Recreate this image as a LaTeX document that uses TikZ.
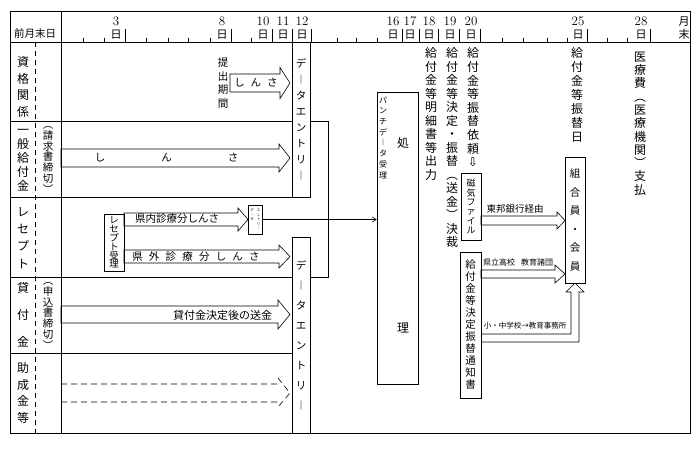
\documentclass[tikz,border=0pt]{standalone}
\usepackage{fontspec}
\newfontfamily\jp{Noto Sans CJK JP}
\newfontfamily\dv{DejaVu Sans}
\usetikzlibrary{arrows.meta}

% vertical text: one glyph per line
\newcommand\vt[2]{\vbox{\baselineskip=#1pt\lineskiplimit=-100pt\lineskip=0pt\vtnext#2\relax}}
\def\vtnext#1{\ifx#1\relax\else\hbox to 1.1em{\hss#1\hss}\expandafter\vtnext\fi}
% letter spaced text
\newcommand\spaced[2]{\def\spgap{\hspace{#1pt}}\spfirst#2\relax}
\def\spfirst#1{#1\spnext}
\def\spnext#1{\ifx#1\relax\else\spgap#1\expandafter\spnext\fi}
\newcommand\darr{{\dv ⇩}}
% block arrow: x start, x head, x tip, y top, y bottom, overhang
\newcommand\blockarrow[7][]{\draw[#1] (#2,#5) -- (#3,#5) -- (#3,#5-#7) -- (#4,{(#5+#6)/2}) -- (#3,#6+#7) -- (#3,#6) -- (#2,#6) -- cycle;}

\begin{document}
\begin{tikzpicture}[x=1pt,y=-1pt,line width=0.6pt,
  lab/.style={inner sep=0pt,font=\jp\fontsize{12}{12}\selectfont},
  txt/.style={inner sep=0pt,font=\jp\fontsize{10.5}{10.5}\selectfont},
  small/.style={inner sep=0pt,font=\jp\fontsize{9.5}{9.5}\selectfont},
  tiny/.style={inner sep=0pt,font=\jp\fontsize{7.5}{7.5}\selectfont},
  box/.style={draw,inner sep=0pt},
  daynum/.style={inner sep=0pt,font=\fontsize{13}{13}\selectfont},
  dayjp/.style={inner sep=0pt,font=\jp\fontsize{11}{11}\selectfont},
  flow/.style={-{Straight Barb[length=4pt,width=5pt]}}]
\useasboundingbox (0,0) rectangle (699,448);

% frame and rows
\draw[line width=0.9pt] (10,11) rectangle (690,433);
\draw (10,42) -- (690,42);
\draw (61,11) -- (61,433);
\draw[dash pattern=on 5pt off 4pt] (35,42) -- (35,433);
\draw (10,121) -- (292,121);
\draw (10,197) -- (292,197);
\draw (10,277) -- (292,277);
\draw (10,353) -- (292,353);

% day scale
\foreach \t/\d in {125/3,231/8,272/10,292/11,311/12,402/16,419/17,438/18,459/19,480/20,587/25,650/28}{
  \draw (\t,42) -- (\t,29);
  \node[daynum] (n\d) at (\t-9,21) {\d};
  \node[dayjp] (j\d) at (\t-9,35) {日};
}
\foreach \t in {83,104,146,168,188,210,251,337,356,377,502,523,547,567,607,627}
  \draw (\t,42) -- (\t,38);
\node[dayjp] (mend) at (684,28) {\vt{13.5}{月末}};
\node[small,font=\jp\fontsize{10.5}{10.5}\selectfont] (prev) at (35,33) {前月末日};

% row labels
\node[lab] (rowA) at (23,87) {\vt{16.7}{資格関係}};
\node[lab] (rowB) at (23,160.5) {\vt{14}{一般給付金}};
\node[txt] (rowBn) at (48,160) {\vt{10.7}{︵請求書締切︶}};
\node[lab] (rowC) at (23,238) {\vt{17.3}{レセプト}};
\node[lab] (rowD) at (23,315) {\vt{27}{貸付金}};
\node[txt] (rowDn) at (48,316) {\vt{10.7}{︵申込書締切︶}};
\node[lab] (rowE) at (23,393) {\vt{16.7}{助成金等}};

% data entry
\node[box,txt,minimum width=18pt,minimum height=155pt] (entryA) at (301,119.5) {\vt{16}{デ︱タエントリ︱}};
\node[box,txt,minimum width=18pt,minimum height=196pt] (entryB) at (301,335) {\vt{20}{デ︱タエントリ︱}};
\draw (entryA.east |- 0,121) -- (328,121) -- (328,277) -- (entryB.east |- 0,277);

% qualification
\node[txt] (period) at (223,83) {\vt{13.5}{提出期間}};
\blockarrow{230}{280}{290}{74}{92}{6.5}
\node[txt] (chkA) at (256,83) {\spaced{6}{しんさ}};

% general benefit
\blockarrow{61}{279}{290}{149}{167}{5}
\node[txt] (chkB) at (166.5,158) {\spaced{56}{しんさ}};

% receipts
\node[box,txt,font=\jp\fontsize{9.5}{9.5}\selectfont,minimum width=20pt,minimum height=57pt] (recept) at (114,242.5) {\vt{8.8}{レセプト受理}};
\blockarrow{124}{238}{248}{213}{226}{5}
\node[txt] (inner) at (177,219) {県内診療分しんさ};
\blockarrow{124}{279}{290}{250}{263}{5}
\node[txt] (outer) at (196,256.5) {\spaced{6.2}{県外診療分しんさ}};
\node[box,minimum width=14pt,minimum height=29pt] (entryS) at (255,219.5) {};
\node[inner sep=0pt,font=\jp\fontsize{3.5}{3.5}\selectfont] (entrySa) at (258.5,219.5) {\vt{4.5}{エントリ︱}};
\node[inner sep=0pt,font=\jp\fontsize{3.5}{3.5}\selectfont] (entrySb) at (252,215) {\vt{4.5}{デ︱タ}};

% loans
\blockarrow{61}{278}{290}{306}{323}{6}
\node[txt,font=\jp\fontsize{11}{11}\selectfont] (loan) at (222.5,315) {貸付金決定後の送金};

% grants
\draw[dash pattern=on 6pt off 4pt] (61,384) -- (278,384) (61,402) -- (278,402)
  (278,378) -- (290,393) -- (278,407);

% processing
\node[box,minimum width=41pt,minimum height=292pt] (proc) at (397.5,238) {};
\node[inner sep=0pt,font=\jp\fontsize{8}{8}\selectfont] (punch) at (383,137.5) {\vt{10.7}{パンチデ︱タ受理}};
\node[lab] (procA) at (403,143) {処};
\node[lab] (procB) at (403,328) {理};
\draw[flow] (entryS.east) -- (entryS.east -| proc.west);

% day columns
\node[lab] (colA) at (431,114) {\vt{13.5}{給付金等明細書等出力}};
\node[lab] (colB) at (452,147.5) {\vt{13.5}{給付金等決定・振替︵送金︶決裁}};
\node[lab] (colC) at (473,107.5) {\vt{13.6}{給付金等振替依頼\darr}};
\node[lab] (colD) at (577,95) {\vt{14}{給付金等振替日}};
\node[lab] (colE) at (640,123.5) {\vt{13.3}{医療費︵医療機関︶支払}};

% transfer
\node[box,font=\jp\fontsize{9}{9}\selectfont,minimum width=20pt,minimum height=67pt] (mag) at (471,206.5) {\vt{9.4}{磁気ファイル}};
\node[box,txt,minimum width=21pt,minimum height=146pt] (notice) at (470.5,325) {\vt{12}{給付金等決定振替通知書}};
\node[box,txt,minimum width=20pt,minimum height=126pt] (member) at (575,220) {\vt{18.6}{組合員・会員}};
\blockarrow{481}{557}{565}{216}{225}{4}
\node[small] (bank) at (515,209) {東邦銀行経由};
\blockarrow{481}{555}{565}{270}{278}{5}
\node[tiny,font=\jp\fontsize{8}{8}\selectfont] (pref) at (518,262) {県立高校\hspace{6pt}教育諸団};
\draw (481,334) -- (571,334) -- (571,292) -- (566,292) -- (575,283) -- (584,292) -- (579,292) -- (579,342) -- (481,342);
\node[tiny] (school) at (525,326) {小・中学校→教育事務所};
\end{tikzpicture}
\end{document}
